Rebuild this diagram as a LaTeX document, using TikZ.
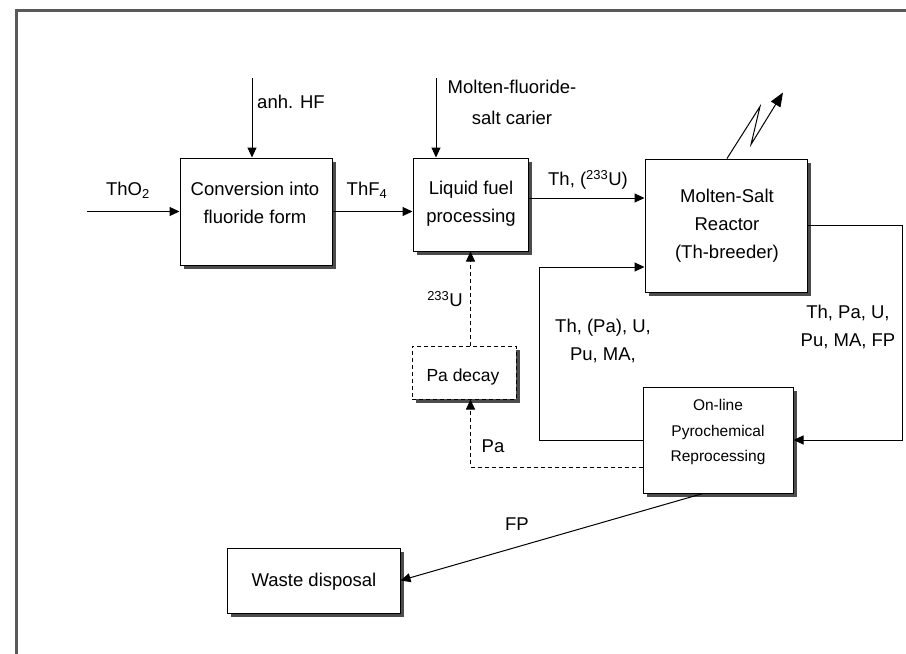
\documentclass[tikz,border=0pt]{standalone}
\usepackage{fontspec}
\setmainfont{Liberation Sans}
\usetikzlibrary{arrows.meta,shadows}
\begin{document}
\begin{tikzpicture}[x=1pt,y=-1pt,
  box/.style={draw=black, line width=1pt, fill=white, inner sep=0pt,
    drop shadow={shadow xshift=3.5pt, shadow yshift=-3.5pt, fill=black!70, opacity=1}},
  txt/.style={font=\fontsize{18.5}{28}\selectfont, align=center, inner sep=0pt},
  smalltxt/.style={font=\fontsize{15.5}{25.5}\selectfont, align=center, inner sep=0pt},
  arr/.style={line width=1pt, -{Triangle[length=10pt,width=9pt]}},
  bigarr/.style={line width=1pt, -{Triangle[length=14pt,width=11pt]}},
  darr/.style={arr, dash pattern=on 4pt off 3pt},
  frame/.style={line width=3pt, draw=black!65}
]
\useasboundingbox (0,0) rectangle (906,654);
\fill[white] (0,0) rectangle (906,654);
\draw[frame] (16,654) -- (16,10.5) -- (906,10.5);

% boxes
\node[box, minimum width=152pt, minimum height=107pt] (conv) at (256,211.5) {};
\node[txt] (convt) at (255,202.5) {Conversion into\\fluoride form};
\node[box, minimum width=115pt, minimum height=93pt] (liq) at (470.5,204.5) {};
\node[txt] (liqt) at (471,204) {Liquid fuel\\processing};
\node[box, minimum width=162pt, minimum height=133pt] (reac) at (726,225.5) {};
\node[txt] (react) at (727,226) {Molten-Salt\\Reactor\\(Th-breeder)};
\node[box, dash pattern=on 4pt off 3pt, minimum width=104pt, minimum height=53pt] (pad) at (464,372.5) {};
\node[txt, font=\fontsize{17.5}{26}\selectfont] (padt) at (463,377) {Pa decay};
\node[box, minimum width=150pt, minimum height=106pt] (onl) at (718,440) {};
\node[smalltxt] (onlt) at (718,432) {On-line\\Pyrochemical\\Reprocessing};
\node[box, minimum width=173pt, minimum height=65pt] (waste) at (313.5,580.5) {};
\node[txt] (wastet) at (314,582) {Waste disposal};

% free ends
\coordinate (tho) at (87,211.5);
\coordinate (hf) at (252,78);
\coordinate (mf) at (436,78);
\coordinate (thU) at ([yshift=6.5pt]liq.east);
\coordinate (rin) at ([yshift=-41.5pt]reac.west);
\coordinate (paout) at ([yshift=-27pt]onl.west);
\coordinate (fpout) at ([xshift=-15pt]onl.south);
\coordinate (z0) at ([xshift=1pt]reac.north);

% connectors
\draw[arr] (tho) -- (conv.west);
\draw[arr] (hf) -- (hf |- conv.north);
\draw[arr] (mf) -- (mf |- liq.north);
\draw[arr] (conv.east) -- (conv.east -| liq.west);
\draw[arr] (thU) -- (thU -| reac.west);
\draw[bigarr] (z0) -- ++(33,-52) -- ++(-9,38) -- ++(32,-52);
\draw[arr] (reac.east) -- ++(95,0) |- (onl.east);
\draw[arr] (onl.west) -- ++(-103,0) |- (rin);
\draw[darr] (paout) -| (liq.south |- pad.south);
\draw[darr] (liq.south |- pad.north) -- (liq.south);
\draw[arr] (fpout) -- (waste.east);

% labels
\node[txt] (lth) at (128,190) {ThO\textsubscript{2}};
\node[txt] (lhf) at (291,102) {anh. HF};
\node[txt, font=\fontsize{18.5}{31}\selectfont] (lmf) at (512,102) {Molten-fluoride-\\salt carier};
\node[txt] (lthf) at (367,190) {ThF\textsubscript{4}};
\node[txt] (lthu) at (588,180) {Th, (\textsuperscript{233}U)};
\node[txt] (lu) at (445,299) {\textsuperscript{233}U};
\node[txt] (lret) at (603,341) {Th, (Pa), U,\\Pu, MA,};
\node[txt] (lout) at (848,327) {Th, Pa, U,\\Pu, MA, FP};
\node[txt] (lpa) at (493,446) {Pa};
\node[txt] (lfp) at (517,524) {FP};
\end{tikzpicture}
\end{document}
